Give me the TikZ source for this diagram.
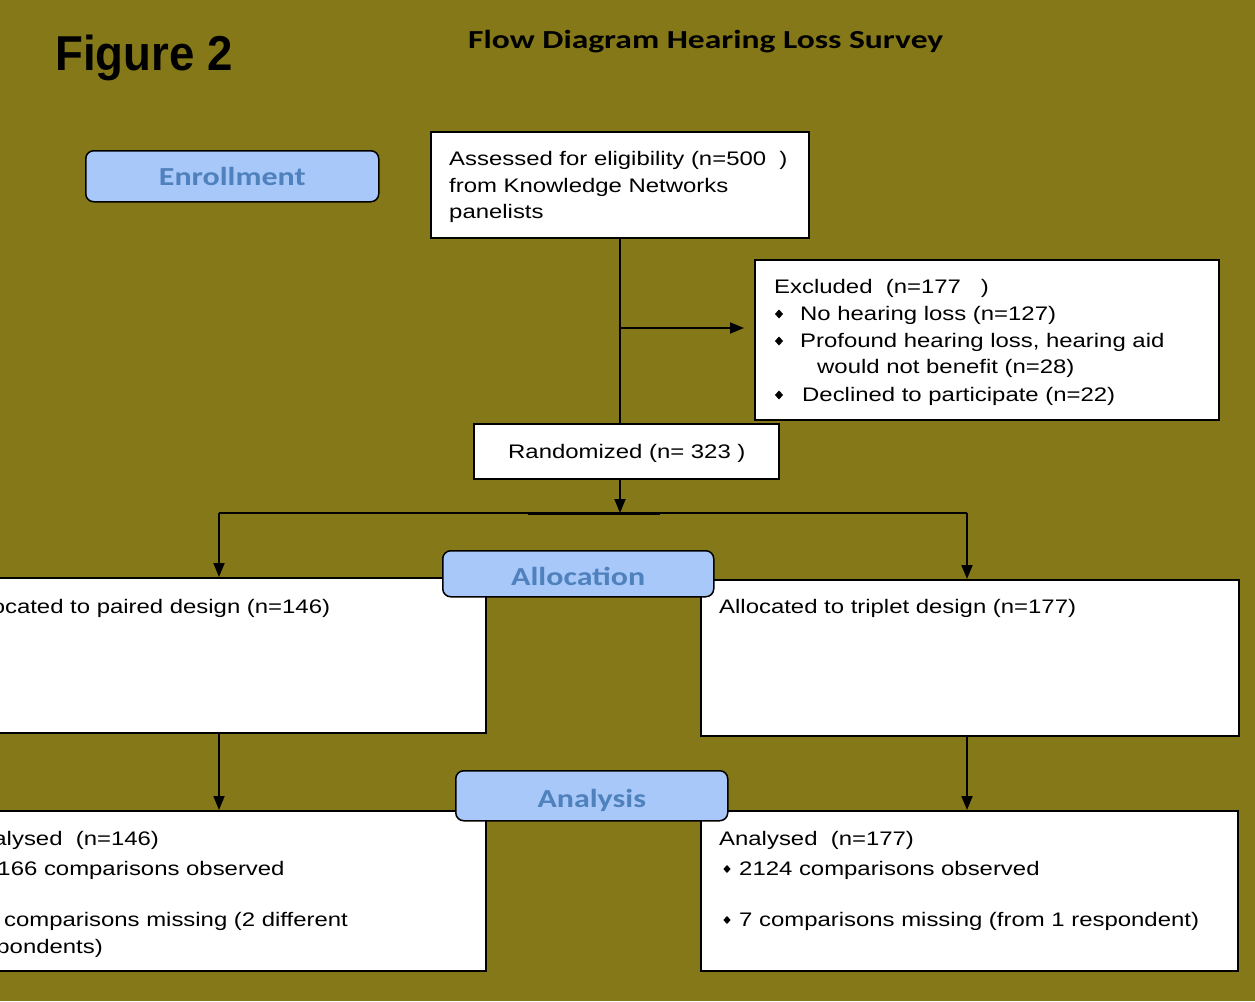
\documentclass[tikz,border=0pt]{standalone}
\usepackage{fontspec}
\setmainfont{Liberation Sans}
\newfontfamily\bodyfont{Liberation Sans}[FakeStretch=1.22]
\newfontfamily\figfont{Liberation Sans}[FakeStretch=0.93]
\newfontfamily\titlefont{Carlito}[FakeStretch=1.29]
\newfontfamily\labfont{Carlito}[FakeStretch=1.23]
\usetikzlibrary{arrows.meta}
\definecolor{olivebg}{RGB}{133,120,24}
\definecolor{labfill}{RGB}{169,200,250}
\definecolor{labtext}{RGB}{79,129,189}
\newcommand\bulat[3]{\fill[black] (#1,#2) ++(0,-#3) -- ++(#3*0.9,#3) -- ++(-#3*0.9,#3) -- ++(-#3*0.9,-#3) -- cycle;}
\begin{document}
\begin{tikzpicture}[x=1pt,y=-1pt,
  box/.style={draw=black, line width=1.5pt, fill=white, anchor=north west, inner sep=0pt},
  labbox/.style={draw=black, line width=1.5pt, fill=labfill, rounded corners=8pt, anchor=north west, inner sep=0pt, text height=18pt, text depth=0pt, font=\labfont\bfseries\fontsize{26}{26}\selectfont, text=labtext},
  txt/.style={anchor=base west, inner sep=0pt, font=\bodyfont\fontsize{19.6}{24}\selectfont},
  conn/.style={line width=1.8pt},
  arr/.style={conn, -{Triangle[length=14pt,width=11pt]}}]
\path[use as bounding box, fill=olivebg] (0,0) rectangle (1255,1001);
\begin{scope}
\clip (0,0) rectangle (1255,1001);

% titles
\node[anchor=base west, inner sep=0pt, font=\figfont\bfseries\fontsize{49}{49}\selectfont] (fig) at (55,70) {Figure 2};
\node[anchor=base west, inner sep=0pt, font=\titlefont\bfseries\fontsize{26}{26}\selectfont] (title) at (468,48) {Flow Diagram Hearing Loss Survey};

% boxes
\node[box, minimum width=378, minimum height=106] (assess) at (430,131) {};
\node[box, minimum width=464, minimum height=160] (excl) at (754,259) {};
\node[box, minimum width=305, minimum height=55] (rand) at (473,423) {};
\node[box, minimum width=544, minimum height=155] (allocL) at (-59,577) {};
\node[box, minimum width=538, minimum height=156] (allocR) at (700,579) {};
\node[box, minimum width=544, minimum height=160] (anaL) at (-59,810) {};
\node[box, minimum width=537, minimum height=160] (anaR) at (700,810) {};

% stage labels
\node[labbox, minimum width=293, minimum height=51] (enroll) at (85,150) {Enrollment};
\node[labbox, minimum width=271, minimum height=46] (alloclab) at (442,550) {\raisebox{-3pt}{Allocation}};
\node[labbox, minimum width=272, minimum height=50] (analab) at (455,770) {\raisebox{-3pt}{Analysis}};

% connectors
\coordinate (split) at (620,328);
\coordinate (hub) at (620,513);
\coordinate (lj) at (219,513);
\coordinate (rj) at (967,513);
\draw[conn] (assess.south -| split) -- (split |- rand.north);
\draw[arr, shorten >=10pt] (split) -- (split -| excl.west);
\draw[arr] (rand.south -| hub) -- (hub);
\draw[line width=1.5pt] (lj) -- (rj);
\draw[line width=3pt] (528,513) -- (660,513);
\draw[arr] (lj) -- (lj |- allocL.north);
\draw[arr] (rj) -- (rj |- allocR.north);
\draw[arr] (allocL.south -| lj) -- (lj |- anaL.north);
\draw[arr] (allocR.south -| rj) -- (rj |- anaR.north);

% texts: assessed
\node[txt] (a1) at (449,165) {Assessed for eligibility (n=500~~)};
\node[txt] (a2) at (449,192) {from Knowledge Networks};
\node[txt] (a3) at (449,218) {panelists};
% excluded
\node[txt] (e0) at (774,293) {Excluded~~(n=177~~~)};
\bulat{779}{314}{4.5}
\node[txt] (e1) at (800,320) {No hearing loss (n=127)};
\bulat{779}{341}{4.5}
\node[txt] (e2) at (800,347) {Profound hearing loss, hearing aid};
\node[txt] (e3) at (817,373) {would not benefit (n=28)};
\bulat{779}{395}{4.5}
\node[txt] (e4) at (802,401) {Declined to participate (n=22)};
% randomized
\node[txt] (r1) at (508,458) {Randomized (n= 323 )};
% allocation
\node[txt] (l1) at (-35,613) {Allocated to paired design (n=146)};
\node[txt] (t1) at (719,613) {Allocated to triplet design (n=177)};
% analysis left
\node[txt] (l2) at (-36,845) {Analysed~~(n=146)};
\bulat{-28}{869}{4}
\node[txt] (l3) at (-16,875) {2166 comparisons observed};
\bulat{-28}{920}{4}
\node[txt] (l4) at (-16,926) {4 comparisons missing (2 different};
\node[txt] (l5) at (-37,953) {respondents)};
% analysis right
\node[txt] (t2) at (719,845) {Analysed~~(n=177)};
\bulat{727}{869}{4}
\node[txt] (t3) at (739,875) {2124 comparisons observed};
\bulat{727}{920}{4}
\node[txt] (t4) at (739,926) {7 comparisons missing (from 1 respondent)};
\end{scope}
\end{tikzpicture}
\end{document}
